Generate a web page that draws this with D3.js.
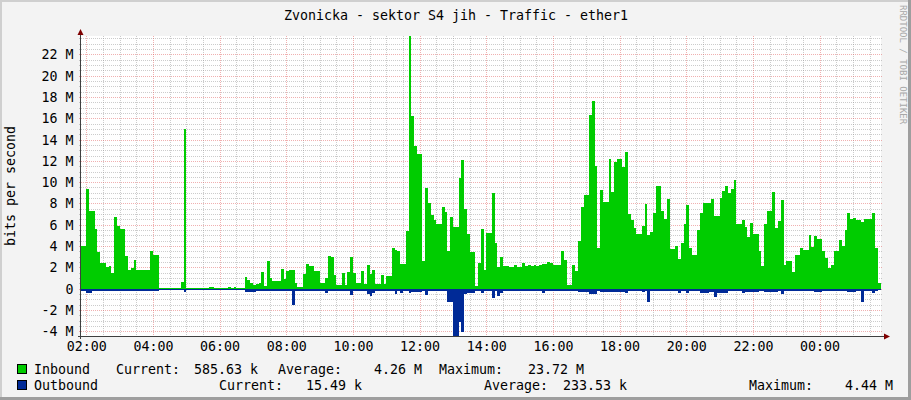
<!DOCTYPE html>
<html><head><meta charset="utf-8">
<script src="https://cdn.jsdelivr.net/npm/d3@7"></script>
<style>
body{margin:0;background:#F3F3F3}
svg{display:block}
text{font-family:"DejaVu Sans Mono",monospace;}
</style>
</head><body><svg id="c" width="911" height="400"></svg>
<script>
// ---------------- data ----------------
const title = "Zvonicka - sektor S4 jih - Traffic - ether1";
const yAxisTitle = "bits per second";
const watermark = "RRDTOOL / TOBI OETIKER";
// 5-minute samples starting 01:50 (Mbit/s)
const inbound = [
 4.0,4.0,9.4,7.3,7.3,5.6,3.4,2.45,2.45,2.05,
 2.1,1.5,6.7,5.9,5.6,5.6,3.1,1.8,1.95,2.7,
 1.8,1.8,1.8,1.8,1.8,3.5,3.15,3.15,0.05,0.02,
 0.05,0.1,0.02,0.02,0.02,0.02,0.65,15.0,0.1,0.05,
 0.02,0.1,0.05,0.1,0.05,0.05,0.15,0.15,0.1,0.1,
 0.1,0.1,0.1,0.15,0.1,0.15,0.1,0.1,0.1,1.1,
 0.8,0.5,0.35,0.45,0.55,1.55,0.25,2.6,1.0,0.75,
 0.75,0.75,1.85,0.9,1.7,1.75,1.75,0.5,0.2,0.2,
 1.35,2.3,2.1,2.1,1.7,1.7,0.5,0.5,1.0,3.05,
 3.0,1.3,0.35,0.35,1.5,0.35,1.55,2.95,1.45,0.55,
 0.55,1.7,0.45,2.2,1.4,1.8,0.45,0.45,1.3,0.45,
 1.2,1.2,3.8,3.6,3.55,2.35,2.3,5.4,23.72,16.2,
 13.4,12.65,12.65,2.6,9.45,8.05,6.9,6.45,6.1,6.1,
 7.65,7.2,3.5,6.7,5.8,5.8,10.4,12.1,7.5,5.15,
 3.4,3.4,0.25,2.45,5.6,1.8,5.25,5.25,9.0,4.3,
 2.05,2.95,2.1,2.1,2.0,2.0,2.2,2.0,2.0,2.45,
 2.15,2.2,2.15,2.2,2.15,2.2,2.3,2.35,2.5,2.4,
 2.25,2.25,2.2,3.55,2.7,0.35,0.35,2.2,1.7,4.5,
 7.65,8.8,8.8,16.3,17.6,11.5,3.85,9.25,8.15,8.15,
 12.2,9.1,11.9,12.15,12.15,11.45,12.85,7.05,6.45,5.7,
 5.15,5.15,5.9,7.95,5.05,5.35,7.1,9.65,9.65,7.3,
 6.5,8.4,3.75,3.75,4.0,2.8,4.3,6.05,7.85,3.8,
 3.2,3.2,5.5,7.15,8.0,8.0,8.0,8.4,6.85,6.85,
 8.5,9.15,9.65,9.0,9.35,10.2,6.05,6.05,6.45,5.8,
 4.85,6.15,5.15,5.15,3.55,2.15,6.05,7.3,7.3,9.1,
 5.7,6.35,8.3,2.2,2.6,2.6,1.55,3.15,3.15,3.8,
 3.6,3.6,5.05,3.95,4.95,4.7,4.7,3.55,2.9,1.95,
 2.2,3.5,3.5,4.55,4.05,5.5,7.15,6.55,6.65,6.45,
 6.45,6.3,6.55,6.5,6.5,7.1,3.85,0.55
];
// outbound magnitude (drawn below zero), Mbit/s
const outbound = [
 0.08,0.08,0.3,0.3,0.08,0.08,0.08,0.08,0.08,0.08,
 0.08,0.08,0.15,0.15,0.15,0.15,0.08,0.08,0.08,0.08,
 0.08,0.08,0.08,0.08,0.08,0.12,0.12,0.12,0.05,0.05,
 0.05,0.05,0.05,0.05,0.05,0.05,0.05,0.25,0.05,0.05,
 0.05,0.05,0.05,0.05,0.05,0.05,0.05,0.05,0.05,0.05,
 0.05,0.05,0.05,0.05,0.05,0.05,0.05,0.05,0.05,0.2,
 0.2,0.2,0.2,0.08,0.08,0.08,0.08,0.08,0.08,0.08,
 0.08,0.08,0.08,0.08,0.08,0.08,1.45,0.08,0.08,0.08,
 0.08,0.08,0.15,0.15,0.15,0.15,0.15,0.08,0.3,0.08,
 0.15,0.15,0.15,0.08,0.08,0.08,0.08,0.5,0.08,0.08,
 0.08,0.08,0.08,0.45,0.6,0.3,0.08,0.08,0.08,0.08,
 0.08,0.08,0.08,0.4,0.08,0.3,0.08,0.08,0.35,0.2,
 0.2,0.2,0.2,0.08,0.5,0.15,0.15,0.15,0.15,0.15,
 0.15,0.15,1.2,1.2,4.3,4.44,3.0,4.0,0.45,0.3,
 0.3,0.3,0.15,0.15,0.3,0.1,0.1,0.1,0.75,0.1,
 0.6,0.3,0.1,0.1,0.1,0.1,0.1,0.1,0.1,0.1,
 0.1,0.1,0.1,0.1,0.1,0.1,0.3,0.1,0.1,0.1,
 0.1,0.1,0.1,0.1,0.1,0.1,0.1,0.1,0.1,0.2,
 0.2,0.2,0.2,0.45,0.45,0.45,0.1,0.2,0.2,0.2,
 0.2,0.2,0.2,0.2,0.2,0.2,0.3,0.1,0.1,0.1,
 0.1,0.1,0.25,0.1,1.2,0.1,0.1,0.1,0.1,0.1,
 0.1,0.1,0.1,0.1,0.1,0.3,0.1,0.1,0.35,0.1,
 0.1,0.1,0.1,0.3,0.3,0.3,0.2,0.2,0.65,0.3,
 0.35,0.35,0.35,0.15,0.15,0.15,0.15,0.15,0.3,0.2,
 0.2,0.2,0.25,0.25,0.1,0.1,0.2,0.2,0.2,0.2,
 0.2,0.1,0.4,0.15,0.15,0.15,0.15,0.1,0.1,0.1,
 0.15,0.15,0.15,0.1,0.2,0.2,0.2,0.1,0.1,0.1,
 0.15,0.15,0.15,0.15,0.15,0.15,0.2,0.2,0.2,0.1,
 0.1,1.2,0.1,0.1,0.1,0.3,0.1,0.02
];
const yTickValues = [-4,-2,0,2,4,6,8,10,12,14,16,18,20,22];
const yTickLabels = ["-4 M","-2 M","0","2 M","4 M","6 M","8 M","10 M","12 M","14 M","16 M","18 M","20 M","22 M"];
const xTickLabels = ["02:00","04:00","06:00","08:00","10:00","12:00","14:00","16:00","18:00","20:00","22:00","00:00"];
const legendNames = ["Inbound","Outbound"];
const legendColors = ["#00CC00","#002A97"];
const legendCurrent = ["585.63 k","15.49 k"];
const legendAverage = ["4.26 M","233.53 k"];
const legendMaximum = ["23.72 M","4.44 M"];

// ---------------- layout ----------------
const W=911,H=400;
const X0=81, X1=881, YT=36, YB=336;
const svg=d3.select("#c");
const FS="13.3px";

svg.append("rect").attr("width",W).attr("height",H).attr("fill","#F3F3F3");
svg.append("rect").attr("x",0).attr("y",0).attr("width",W).attr("height",2).attr("fill","#CFCFCF");
svg.append("rect").attr("x",0).attr("y",0).attr("width",2).attr("height",H).attr("fill","#CFCFCF");
svg.append("rect").attr("x",W-3).attr("y",0).attr("width",3).attr("height",H).attr("fill","#9E9E9E");
svg.append("rect").attr("x",0).attr("y",H-3).attr("width",W).attr("height",3).attr("fill","#9E9E9E");

const t0=new Date(2024,0,1,1,50,0);
const step=5*60*1000;
const dStart=new Date(t0.getTime()+30000);
const dEnd=new Date(dStart.getTime()+24*3600*1000);
const x=d3.scaleTime().domain([dStart,dEnd]).range([X0,X1]).clamp(true);
const y=d3.scaleLinear().domain([-4.44,23.72]).range([YB,YT]);

svg.append("rect").attr("x",X0).attr("y",YT).attr("width",X1-X0).attr("height",YB-YT).attr("fill","#FFFFFF");

// grid
const g=svg.append("g").attr("shape-rendering","crispEdges");
const minorY=d3.range(-4,23.72,0.5).filter(v=>Math.abs(v/2-Math.round(v/2))>1e-6);
g.selectAll(".hmin").data(minorY).join("line")
 .attr("x1",X0-2).attr("x2",X1+2)
 .attr("y1",d=>Math.round(y(d))+0.5).attr("y2",d=>Math.round(y(d))+0.5)
 .attr("stroke","rgba(143,143,143,0.45)").attr("stroke-dasharray","1,1");
const firstTick=new Date(2024,0,1,2,0,0);
const minorX=d3.timeMinute.every(30).range(dStart,dEnd).filter(d=>d.getMinutes()!==0||d.getHours()%2!==0);
g.selectAll(".vmin").data(minorX).join("line")
 .attr("x1",d=>Math.round(x(d))+0.5).attr("x2",d=>Math.round(x(d))+0.5)
 .attr("y1",YT).attr("y2",YB+2)
 .attr("stroke","rgba(143,143,143,0.45)").attr("stroke-dasharray","1,1");
g.selectAll(".hmaj").data(yTickValues).join("line")
 .attr("x1",X0-2).attr("x2",X1+2)
 .attr("y1",d=>Math.round(y(d))+0.5).attr("y2",d=>Math.round(y(d))+0.5)
 .attr("stroke","rgba(222,80,80,0.45)").attr("stroke-dasharray","1,1");
const majorX=xTickLabels.map((l,i)=>new Date(firstTick.getTime()+i*2*3600*1000));
g.selectAll(".vmaj").data(majorX).join("line")
 .attr("x1",d=>Math.round(x(d))+0.5).attr("x2",d=>Math.round(x(d))+0.5)
 .attr("y1",YT).attr("y2",YB+2)
 .attr("stroke","rgba(222,80,80,0.45)").attr("stroke-dasharray","1,1");

// areas as per-sample columns
const tAt=i=>new Date(t0.getTime()+i*step);
const colX=i=>Math.round(x(tAt(i)));
const y0px=Math.round(y(0));
const ag=svg.append("g").attr("shape-rendering","crispEdges");
ag.selectAll(".in").data(inbound).join("rect")
 .attr("x",(d,i)=>colX(i)).attr("width",(d,i)=>colX(i+1)-colX(i))
 .attr("y",d=>Math.round(y(d))).attr("height",d=>y0px+1-Math.round(y(d)))
 .attr("fill",legendColors[0]);
ag.selectAll(".out").data(outbound).join("rect")
 .attr("x",(d,i)=>colX(i)).attr("width",(d,i)=>colX(i+1)-colX(i))
 .attr("y",y0px).attr("height",d=>Math.max(1,Math.round(y(-d))-y0px+1))
 .attr("fill",legendColors[1]);

// axes
svg.append("line").attr("x1",X0-0.5).attr("x2",X0-0.5).attr("y1",YB+3).attr("y2",YT-4).attr("stroke","#3F3F3F").attr("shape-rendering","crispEdges");
svg.append("line").attr("x1",X0-3).attr("x2",X1+4).attr("y1",YB+0.5).attr("y2",YB+0.5).attr("stroke","#3F3F3F").attr("shape-rendering","crispEdges");
svg.append("path").attr("d",`M${X0-3.5},${YT-1} L${X0+2.5},${YT-1} L${X0-0.5},${YT-7} Z`).attr("fill","#7F0000");
svg.append("path").attr("d",`M${X1+3},${YB-2.5} L${X1+3},${YB+3.5} L${X1+9},${YB+0.5} Z`).attr("fill","#7F0000");

// y labels
svg.selectAll(".yl").data(yTickValues).join("text")
 .attr("x",73.5).attr("y",d=>y(d)+5).attr("text-anchor","end")
 .attr("font-size",FS).attr("fill","#000").text((d,i)=>yTickLabels[i]);
// x labels
svg.selectAll(".xl").data(majorX).join("text")
 .attr("x",d=>x(d)+0.5).attr("y",351).attr("text-anchor","middle")
 .attr("font-size",FS).attr("fill","#000").text((d,i)=>xTickLabels[i]);

// title
svg.append("text").attr("x",456).attr("y",20).attr("text-anchor","middle").attr("font-size",FS).attr("fill","#000").text(title);
// y axis title
svg.append("text").attr("transform",`translate(15,${(YT+YB)/2}) rotate(-90)`).attr("text-anchor","middle").attr("font-size",FS).attr("fill","#000").text(yAxisTitle);
// watermark
svg.append("text").attr("transform","translate(900,5) rotate(90)").attr("font-size","9px").attr("fill","#A8A8A8").text(watermark);

// legend
const rows=[373.5,389.5];
const lay=[
 {cur:[116,258],avg:[278,422],max:[439,584]},
 {cur:[219,362],avg:[484,627],max:[749,893]}
];
rows.forEach((ry,i)=>{
  svg.append("rect").attr("x",17.5).attr("y",ry-9.5).attr("width",9).attr("height",9)
   .attr("fill",legendColors[i]).attr("stroke","#000").attr("stroke-width",1).attr("shape-rendering","crispEdges");
  const t=(xx,s,anc)=>svg.append("text").attr("x",xx).attr("y",ry).attr("font-size",FS).attr("text-anchor",anc||"start").attr("fill","#000").text(s);
  t(34,legendNames[i]);
  t(lay[i].cur[0],"Current:"); t(lay[i].cur[1],legendCurrent[i],"end");
  t(lay[i].avg[0],"Average:"); t(lay[i].avg[1],legendAverage[i],"end");
  t(lay[i].max[0],"Maximum:"); t(lay[i].max[1],legendMaximum[i],"end");
});
</script></body></html>
